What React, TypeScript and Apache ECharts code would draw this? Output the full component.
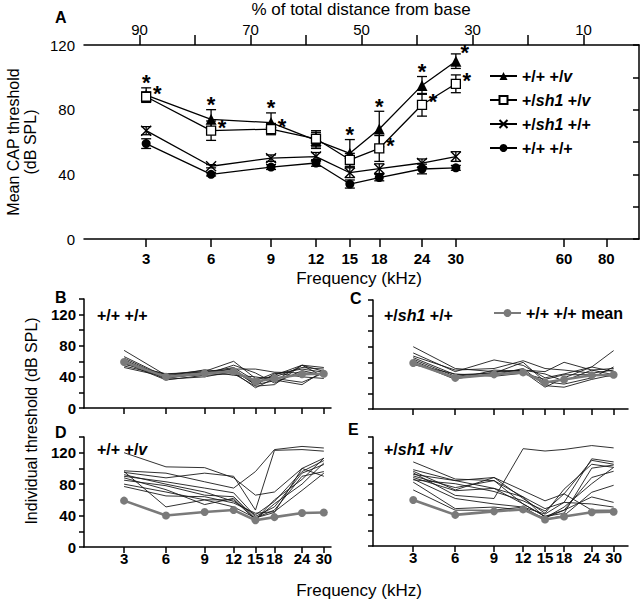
import React, { useEffect, useRef } from "react";
import * as echarts from "echarts";

const FONT = "'Liberation Sans', Arial, Helvetica, sans-serif";

// Frequency tick labels and their place on the cochlea (% of total distance from base)
const freqLabels = ["3", "6", "9", "12", "15", "18", "24", "30", "60", "80"];
const freqDistance = [88.8, 77.1, 66.3, 58.2, 52.1, 46.8, 39.1, 33.0, 13.5, 5.9];
const distanceTicks = [10, 20, 30, 40, 50, 60, 70, 80, 90];
const distanceLabels = [10, 30, 50, 70, 90];
const yTicksA = [0, 20, 40, 60, 80, 100, 120];
const yLabelsA = [0, 40, 80, 120];
const yTicksSmall = [0, 20, 40, 60, 80, 100, 120, 140];
const yLabelsSmall = [0, 40, 80, 120];

// Panel A: mean CAP thresholds (3..30 kHz) and error bars
const meanPlusV = [89, 74, 72, 61, 53, 68, 95, 110];
const errPlusV = [4.5, 6, 6, 5, 8.5, 11, 5.5, 4.5];
const sigPlusV = [1, 1, 1, 0, 1, 1, 1, 1];
const meanSh1V = [88, 67, 68, 62, 49, 56, 83, 96];
const errSh1V = [3, 6, 3.5, 5, 4, 8, 7, 5.5];
const sigSh1V = [1, 1, 1, 0, 0, 1, 1, 1];
const meanSh1Plus = [67, 45, 50, 51, 41, 43.5, 47, 51];
const errSh1Plus = [2.5, 1, 2, 2.5, 3, 3, 2.5, 3];
const meanWT = [59, 40, 44.5, 47, 34, 38, 43.3, 44];
const errWT = [3, 1, 1.5, 2, 2.5, 2, 3, 1.5];

// Individual thresholds
const indivB = [
  [74, 42, 44, 48, 30, 35, 55, 47],
  [66, 40, 47, 60, 38, 40, 52, 50],
  [62, 38, 45, 50, 50, 46, 45, 44],
  [58, 36, 42, 44, 28, 30, 55, 52],
  [56, 44, 46, 52, 35, 45, 40, 38],
  [54, 41, 49, 46, 26, 38, 33, 45],
  [52, 40, 43, 55, 45, 32, 48, 42],
  [60, 37, 40, 47, 32, 42, 55, 40],
  [57, 43, 48, 42, 40, 36, 30, 48],
  [64, 39, 44, 51, 29, 44, 50, 46],
];
const indivC = [
  [80, 52, 48, 50, 48, 60, 50, 44],
  [72, 48, 63, 56, 40, 45, 54, 75],
  [68, 50, 52, 62, 52, 50, 46, 50],
  [66, 44, 46, 60, 35, 32, 40, 54],
  [62, 40, 44, 52, 30, 28, 38, 44],
  [60, 38, 50, 48, 28, 40, 54, 48],
  [57, 45, 42, 46, 38, 44, 44, 42],
  [64, 42, 47, 50, 45, 36, 50, 52],
];
const indivD = [
  [120, 102, 101, 88, 66, 70, 100, 113],
  [97, 94, 83, 75, 96, 124, 128, 126],
  [95, 88, 94, 90, 47, 123, 124, 122],
  [90, 83, 75, 69, 39, 51, 94, 105],
  [85, 78, 66, 64, 37, 47, 90, 96],
  [80, 70, 60, 60, 35, 60, 86, 113],
  [77, 65, 64, 56, 43, 45, 72, 94],
  [96, 51, 60, 51, 37, 44, 100, 90],
  [88, 73, 54, 62, 35, 55, 80, 107],
  [92, 80, 70, 58, 41, 58, 96, 110],
];
const indivE = [
  [108, 86, 84, 63, 48, 56, 112, 108],
  [98, 84, 88, 71, 58, 67, 110, 105],
  [96, 72, 88, 61, 42, 73, 105, 101],
  [94, 65, 61, 125, 122, 124, 129, 126],
  [92, 84, 74, 54, 38, 46, 88, 96],
  [88, 71, 74, 63, 36, 50, 80, 101],
  [86, 61, 54, 50, 34, 39, 69, 78],
  [82, 48, 50, 46, 36, 46, 63, 56],
  [72, 46, 46, 50, 41, 56, 54, 50],
  [90, 75, 84, 54, 38, 42, 100, 104],
  [85, 80, 70, 58, 45, 67, 46, 46],
];

const NAME_PV = "+/+ +/v";
const NAME_SV = "+/sh1 +/v";
const NAME_SP = "+/sh1 +/+";
const NAME_WT = "+/+ +/+";
const NAME_MEAN = "+/+ +/+ mean";

const richName: Record<string, string> = {
  [NAME_PV]: "{n|+/+ +/}{i|v}",
  [NAME_SV]: "{n|+/}{i|sh1}{n| +/}{i|v}",
  [NAME_SP]: "{n|+/}{i|sh1}{n| +/+}",
  [NAME_WT]: "{n|+/+ +/+}",
  [NAME_MEAN]: "{n|+/+ +/+ mean}",
};

const richStyles = {
  n: { fontSize: 16, fontWeight: "bold", fontFamily: FONT, color: "#000" },
  i: { fontSize: 16, fontWeight: "bold", fontStyle: "italic", fontFamily: FONT, color: "#000" },
};

const freqD = freqDistance.slice(0, 8);
const pts = (vals: number[]) => freqD.map((d, i) => [d, vals[i]]);

const labelForDistance = (v: number) => {
  const i = freqDistance.findIndex((d) => Math.abs(d - v) < 1e-6);
  return i >= 0 ? freqLabels[i] : "";
};

const X_SYMBOL = "path://M0,0L10,10M10,0L0,10";

function errorSeries(mean: number[], err: number[], sig: number[] | null, starMode: string) {
  return {
    type: "custom",
    xAxisIndex: 0,
    yAxisIndex: 0,
    silent: true,
    z: 3,
    data: freqD.map((d, i) => [d, mean[i] - err[i], mean[i] + err[i], sig ? sig[i] : 0, mean[i]]),
    renderItem: (params: any, api: any) => {
      const x = api.value(0);
      const lo = api.value(1);
      const hi = api.value(2);
      const s = api.value(3);
      const m = api.value(4);
      const pt = api.coord([x, hi]);
      const pb = api.coord([x, lo]);
      const pm = api.coord([x, m]);
      const hw = 5;
      const st = { stroke: "#000", lineWidth: 1.3 };
      const children: any[] = [
        { type: "line", shape: { x1: pt[0], y1: pt[1], x2: pb[0], y2: pb[1] }, style: st },
        { type: "line", shape: { x1: pt[0] - hw, y1: pt[1], x2: pt[0] + hw, y2: pt[1] }, style: st },
        { type: "line", shape: { x1: pb[0] - hw, y1: pb[1], x2: pb[0] + hw, y2: pb[1] }, style: st },
      ];
      if (s) {
        let sx = pt[0];
        let sy = pt[1] - 5;
        if (starMode === "right") {
          sx = pm[0] + 11;
          sy = pm[1] - 3;
        } else if (pt[1] - 10 < 52) {
          sx = pt[0] + 9;
          sy = pt[1] - 1;
        }
        children.push({
          type: "text",
          x: sx,
          y: sy,
          style: {
            text: "*",
            font: `bold 22px ${FONT}`,
            fill: "#000",
            align: "center",
            verticalAlign: "middle",
          },
        });
      }
      return { type: "group", children };
    },
  };
}

const smallPanels = [
  { left: 84, top: 299, width: 247, height: 109, xMin: 31, showXLabels: false, showYLabels: true, lines: indivB },
  { left: 373, top: 300, width: 255, height: 109, xMin: 29, showXLabels: false, showYLabels: false, lines: indivC },
  { left: 84, top: 437, width: 247, height: 110, xMin: 31, showXLabels: true, showYLabels: true, lines: indivD },
  { left: 373, top: 437, width: 255, height: 109, xMin: 29, showXLabels: true, showYLabels: false, lines: indivE },
];

function buildOption() {
  const axisLine = { show: true, lineStyle: { color: "#000", width: 1.5 } };
  const tickStyle = { color: "#000", width: 1.5 };

  const grid: any[] = [
    { left: 84, top: 45, width: 555, height: 194, outerBoundsMode: "none" },
    ...smallPanels.map((p) => ({ left: p.left, top: p.top, width: p.width, height: p.height, outerBoundsMode: "none" })),
  ];

  const xAxis: any[] = [
    {
      gridIndex: 0,
      type: "value",
      min: 0,
      max: 100,
      inverse: true,
      position: "bottom",
      axisLine,
      axisTick: { customValues: freqDistance, length: 8, lineStyle: tickStyle },
      axisLabel: {
        customValues: freqDistance,
        formatter: (v: number) => labelForDistance(v),
        margin: 12,
        fontSize: 15,
        fontWeight: "bold",
        color: "#000",
        fontFamily: FONT,
      },
      splitLine: { show: false },
    },
    {
      gridIndex: 0,
      type: "value",
      min: 0,
      max: 100,
      inverse: true,
      position: "top",
      axisLine,
      axisTick: { customValues: distanceTicks, length: 10, lineStyle: tickStyle },
      axisLabel: {
        customValues: distanceLabels,
        formatter: (v: number) => String(v),
        margin: 8,
        fontSize: 15,
        color: "#000",
        fontFamily: FONT,
      },
      splitLine: { show: false },
    },
    ...smallPanels.map((p, k) => ({
      gridIndex: k + 1,
      type: "value",
      min: p.xMin,
      max: 100,
      inverse: true,
      axisLine,
      axisTick: { customValues: freqD, length: 6, lineStyle: tickStyle },
      axisLabel: {
        show: p.showXLabels,
        customValues: freqD,
        formatter: (v: number) => labelForDistance(v),
        margin: 4,
        fontSize: 15,
        fontWeight: "bold",
        color: "#000",
        fontFamily: FONT,
      },
      splitLine: { show: false },
    })),
  ];

  const yAxis: any[] = [
    {
      gridIndex: 0,
      type: "value",
      min: 0,
      max: 120,
      axisLine,
      axisTick: { customValues: yTicksA, length: 6, lineStyle: tickStyle },
      axisLabel: {
        customValues: yLabelsA,
        formatter: (v: number) => String(v),
        margin: 9,
        fontSize: 15,
        color: "#000",
        fontFamily: FONT,
      },
      splitLine: { show: false },
    },
    ...smallPanels.map((p, k) => ({
      gridIndex: k + 1,
      type: "value",
      min: 0,
      max: 140,
      axisLine,
      axisTick: { customValues: yTicksSmall, length: 5, lineStyle: tickStyle },
      axisLabel: {
        show: p.showYLabels,
        customValues: yLabelsSmall,
        formatter: (v: number) => String(v),
        margin: 8,
        fontSize: 15,
        fontWeight: "bold",
        color: "#000",
        fontFamily: FONT,
      },
      splitLine: { show: false },
    })),
  ];

  const lineBase = {
    type: "line",
    xAxisIndex: 0,
    yAxisIndex: 0,
    lineStyle: { color: "#000", width: 1.3 },
    z: 4,
  };

  const series: any[] = [
    errorSeries(meanPlusV, errPlusV, sigPlusV, "top"),
    errorSeries(meanSh1V, errSh1V, sigSh1V, "right"),
    errorSeries(meanSh1Plus, errSh1Plus, null, "top"),
    errorSeries(meanWT, errWT, null, "top"),
    {
      ...lineBase,
      name: NAME_PV,
      data: pts(meanPlusV),
      symbol: "triangle",
      symbolSize: 11,
      itemStyle: { color: "#000" },
    },
    {
      ...lineBase,
      name: NAME_SV,
      data: pts(meanSh1V),
      symbol: "rect",
      symbolSize: 9,
      itemStyle: { color: "#fff", borderColor: "#000", borderWidth: 1.3 },
    },
    {
      ...lineBase,
      name: NAME_SP,
      data: pts(meanSh1Plus),
      symbol: X_SYMBOL,
      symbolSize: 10,
      itemStyle: { color: "none", borderColor: "#000", borderWidth: 1.4 },
    },
    {
      ...lineBase,
      name: NAME_WT,
      data: pts(meanWT),
      symbol: "circle",
      symbolSize: 9,
      itemStyle: { color: "#000" },
    },
  ];

  smallPanels.forEach((p, k) => {
    p.lines.forEach((vals) => {
      series.push({
        type: "line",
        xAxisIndex: k + 2,
        yAxisIndex: k + 1,
        data: pts(vals),
        symbol: "none",
        silent: true,
        lineStyle: { color: "#1a1a1a", width: 0.9 },
        z: 2,
      });
    });
    series.push({
      type: "line",
      name: NAME_MEAN,
      xAxisIndex: k + 2,
      yAxisIndex: k + 1,
      data: pts(meanWT),
      symbol: "circle",
      symbolSize: 8,
      lineStyle: { color: "#7a7a7a", width: 2.6 },
      itemStyle: { color: "#7a7a7a" },
      z: 3,
    });
  });

  const txt = (x: number, y: number, text: string, size: number, extra: any = {}) => ({
    type: "text",
    x,
    y,
    style: {
      text,
      font: `${extra.weight || "normal"} ${size}px ${FONT}`,
      fill: "#000",
      align: extra.align || "left",
      verticalAlign: extra.valign || "middle",
      ...(extra.rich ? { rich: extra.rich } : {}),
    },
    rotation: extra.rotation || 0,
  });

  const graphic: any[] = [
    txt(55, 17, "A", 16, { weight: "bold" }),
    txt(55, 297, "B", 16, { weight: "bold" }),
    txt(350, 298, "C", 16, { weight: "bold" }),
    txt(55, 432, "D", 16, { weight: "bold" }),
    txt(348, 429, "E", 16, { weight: "bold" }),
    txt(361, 9, "% of total distance from base", 17, { align: "center" }),
    txt(359, 278, "Frequency (kHz)", 17, { align: "center" }),
    txt(359, 590, "Frequency (kHz)", 17, { align: "center" }),
    txt(13, 142, "Mean CAP threshold", 16, { align: "center", rotation: Math.PI / 2 }),
    txt(30, 142, "(dB SPL)", 16, { align: "center", rotation: Math.PI / 2 }),
    txt(31, 421, "Individual threshold (dB SPL)", 16, { align: "center", rotation: Math.PI / 2 }),
    txt(97, 315, richName[NAME_WT], 16, { rich: richStyles }),
    txt(384, 315, richName[NAME_SP], 16, { rich: richStyles }),
    txt(97, 449, richName[NAME_PV], 16, { rich: richStyles }),
    txt(384, 449, richName[NAME_SV], 16, { rich: richStyles }),
  ];

  return {
    animation: false,
    backgroundColor: "#fff",
    textStyle: { fontFamily: FONT },
    grid,
    xAxis,
    yAxis,
    legend: [
      {
        data: [NAME_PV, NAME_SV, NAME_SP, NAME_WT],
        orient: "vertical",
        left: 484,
        top: 62,
        itemWidth: 27,
        itemHeight: 10,
        itemGap: 6,
        selectedMode: false,
        formatter: (n: string) => richName[n],
        textStyle: { fontSize: 16, lineHeight: 18, fontWeight: "bold", color: "#000", fontFamily: FONT, rich: richStyles },
      },
      {
        data: [NAME_MEAN],
        orient: "horizontal",
        left: 488,
        top: 299,
        itemWidth: 27,
        itemHeight: 10,
        selectedMode: false,
        formatter: (n: string) => richName[n],
        textStyle: { fontSize: 16, lineHeight: 18, fontWeight: "bold", color: "#000", fontFamily: FONT, rich: richStyles },
      },
    ],
    graphic,
    series,
  };
}

export default function App() {
  const ref = useRef<HTMLDivElement | null>(null);
  useEffect(() => {
    if (!ref.current) return;
    const chart = echarts.init(ref.current, null, { renderer: "svg" });
    chart.setOption(buildOption() as any);
    return () => chart.dispose();
  }, []);
  return (
    <div
      ref={ref}
      style={{ position: "fixed", left: 0, top: 0, width: 641, height: 600, background: "#fff" }}
    />
  );
}
